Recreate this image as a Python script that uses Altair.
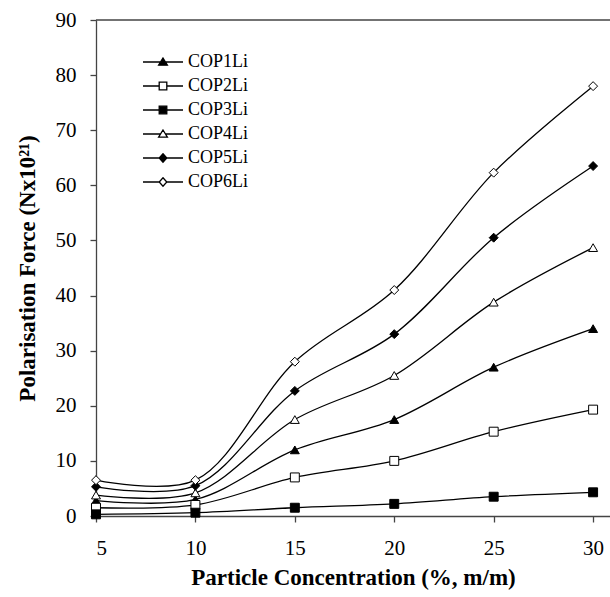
import altair as alt
import pandas as pd

conc = [5, 10, 15, 20, 25, 30]
series = ["COP1Li", "COP2Li", "COP3Li", "COP4Li", "COP5Li", "COP6Li"]
cop1 = [2.8, 3.0, 12.0, 17.5, 27.0, 34.0]
cop2 = [1.5, 2.0, 7.0, 10.0, 15.3, 19.3]
cop3 = [0.3, 0.6, 1.5, 2.2, 3.5, 4.3]
cop4 = [3.8, 4.2, 17.5, 25.5, 38.8, 48.7]
cop5 = [5.3, 5.5, 22.7, 33.0, 50.5, 63.5]
cop6 = [6.5, 6.5, 28.0, 41.0, 62.3, 78.0]
y_ticks = [0, 10, 20, 30, 40, 50, 60, 70, 80, 90]
x_ticks = [5, 10, 15, 20, 25, 30]

values = [cop1, cop2, cop3, cop4, cop5, cop6]
rows = []
for s, vals in zip(series, values):
    for c, v in zip(conc, vals):
        rows.append({"conc": c, "force": v, "series": s, "lseries": s})
df = pd.DataFrame(rows)

shapes = ["triangle-up", "square", "square", "triangle-up", "diamond", "diamond"]
fills = ["black", "white", "black", "white", "black", "white"]
strokes = ["black"] * 6

tri = "M0,-0.2L0.22,0.16L-0.22,0.16Z"
sq = "M-0.19,-0.19H0.19V0.19H-0.19Z"
dia = "M0,-0.21L0.19,0L0,0.21L-0.19,0Z"
def with_line(marker, gap):
    return f"M-1,0H-{gap}M{gap},0H1" + marker
legend_shapes = [with_line(tri, 0.13), with_line(sq, 0.19), with_line(sq, 0.19),
                 with_line(tri, 0.13), with_line(dia, 0.19), with_line(dia, 0.19)]

FONT = "Liberation Serif"

x_enc = alt.X("conc:Q", scale=alt.Scale(domain=[5, 30.85], nice=False),
              axis=alt.Axis(values=x_ticks, title="Particle Concentration (%, m/m)",
                            grid=False, tickSize=6, labelPadding=15,
                            titlePadding=8, titleFontSize=23))
y_enc = alt.Y("force:Q", scale=alt.Scale(domain=[0, 90], nice=False),
              axis=alt.Axis(values=y_ticks, title="Polarisation Force (Nx10²¹)",
                            grid=False, tickSize=6, labelPadding=14,
                            titlePadding=16, titleFontSize=23))

base = alt.Chart(df)

lines = base.mark_line(color="black", strokeWidth=1.3, interpolate="catmull-rom").encode(
    x=x_enc, y=y_enc, detail="series:N")

points = base.mark_point(filled=False, stroke="black", strokeWidth=1, size=80, opacity=1).encode(
    x="conc:Q", y="force:Q",
    shape=alt.Shape("series:N", scale=alt.Scale(domain=series, range=shapes), legend=None),
    fill=alt.Fill("series:N", scale=alt.Scale(domain=series, range=fills), legend=None))

def leg():
    return alt.Legend(title=None, orient="none", legendX=46, legendY=31,
                      symbolSize=1600, symbolStrokeWidth=1.3, symbolOpacity=1,
                      clipHeight=22, rowPadding=2, labelOffset=4,
                      labelFont=FONT, labelFontSize=18, labelColor="black")

legend_layer = base.mark_point(filled=False, strokeWidth=1.3, size=1600, opacity=0).encode(
    x="conc:Q", y="force:Q",
    shape=alt.Shape("lseries:N", scale=alt.Scale(domain=series, range=legend_shapes), legend=leg()),
    fill=alt.Fill("lseries:N", scale=alt.Scale(domain=series, range=fills), legend=leg()),
    stroke=alt.Stroke("lseries:N", scale=alt.Scale(domain=series, range=strokes), legend=leg()))

top = alt.Chart(pd.DataFrame({"y": [90]})).mark_rule(color="#444", strokeWidth=1.3).encode(
    y=alt.Y("y:Q", scale=alt.Scale(domain=[0, 90])))

chart = alt.layer(top, lines, points, legend_layer).resolve_scale(
    shape="independent", fill="independent", stroke="independent"
).properties(
    width=514, height=496,
    autosize=alt.AutoSizeParams(type="none"),
    padding={"left": 96, "top": 20, "right": 0, "bottom": 81},
    background="white",
).configure_view(stroke=None).configure_axis(
    domainColor="#444", domainWidth=1.3, tickColor="#444", tickWidth=1.3,
    labelFont=FONT, labelFontSize=21, labelColor="black",
    titleFont=FONT, titleFontSize=23, titleFontWeight="bold", titleColor="black",
)

chart.save("out.html", embed_options={"renderer": "svg", "actions": False})
